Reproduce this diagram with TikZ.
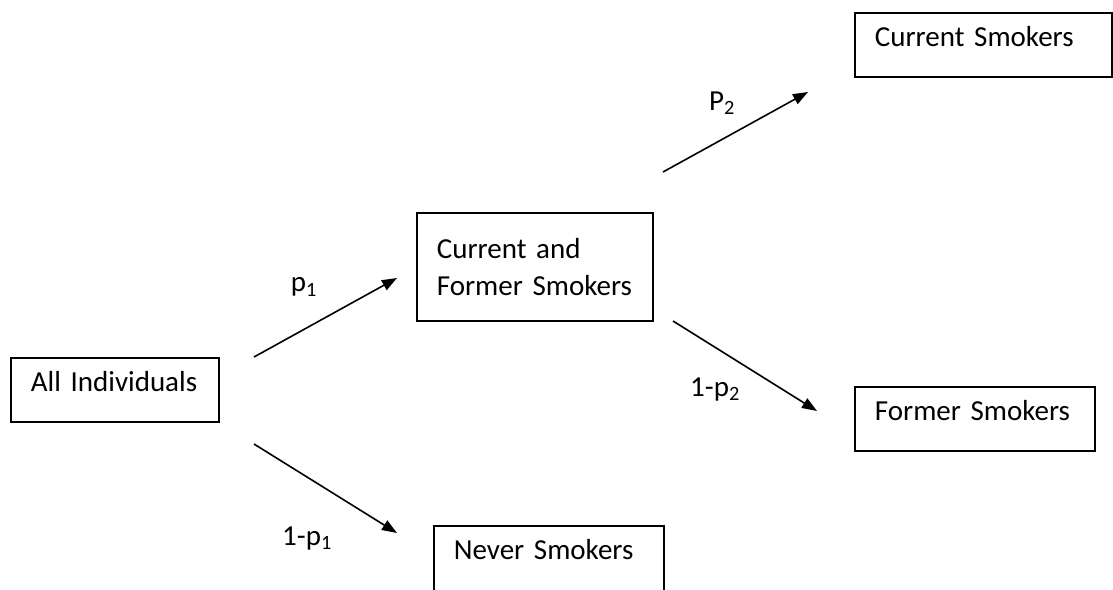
\documentclass[tikz,border=0pt]{standalone}
\usepackage{fontspec}
\setmainfont{Carlito}
\usetikzlibrary{arrows.meta}

\newcommand\diagfont{\fontsize{29}{37}\selectfont\fontdimen2\font=1.5pt\relax}

\tikzset{
  box/.style={draw, line width=1.8pt, anchor=north west, align=left,
    inner xsep=20pt, inner ysep=0pt},
  stage/.style={box, text height=34pt, text depth=30pt},
  branch/.style={-{Triangle[length=15pt,width=11pt]}, line width=1.6pt},
  prob/.style={inner sep=0pt}
}

\begin{document}
\begin{tikzpicture}[x=1pt, y=-1pt, font=\diagfont]
\useasboundingbox (0,0) rectangle (1113,589);
\clip (0,0) rectangle (1113,589);
% boxes
\node[stage, text width=168pt] (ind) at (10,357) {All Individuals};
\node[box, text width=196pt, minimum height=108pt] (cf) at (416,212) {Current and\\Former Smokers};
\node[stage, text width=217pt] (cur) at (854,12) {Current Smokers};
\node[stage, text width=200pt] (frm) at (854,386) {Former Smokers};
\node[stage, text width=190pt, text depth=60pt] (nev) at (433,525) {Never Smokers};
% arrow ends
\coordinate (a1) at (254,357);
\coordinate (b1) at (397,278);
\coordinate (a2) at (254,444);
\coordinate (b2) at (397,533);
\coordinate (a3) at (663,172);
\coordinate (b3) at (808,92);
\coordinate (a4) at (673,321);
\coordinate (b4) at (817,411);
\draw[branch] (a1) -- (b1);
\draw[branch] (a2) -- (b2);
\draw[branch] (a3) -- (b3);
\draw[branch] (a4) -- (b4);
% labels
\node[prob] (l1) at (304,287) {p\textsubscript{1}};
\node[prob] (l2) at (307,538) {1-p\textsubscript{1}};
\node[prob] (l3) at (722,103) {P\textsubscript{2}};
\node[prob] (l4) at (715,389) {1-p\textsubscript{2}};
\end{tikzpicture}
\end{document}
